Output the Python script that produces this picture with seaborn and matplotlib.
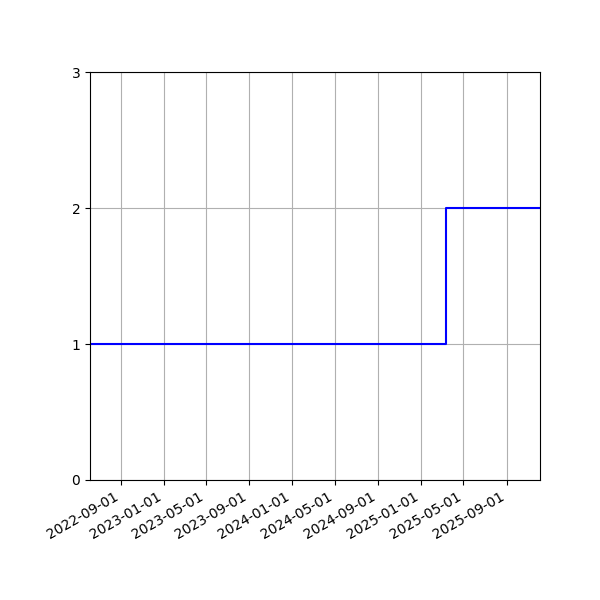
import pandas as pd
import seaborn as sns
import matplotlib.pyplot as plt
import matplotlib.dates as mdates

dates = ["2022-06-06", "2025-03-13", "2025-12-05"]
counts = [1, 2, 2]

df = pd.DataFrame({"date": pd.to_datetime(dates), "count": counts})

fig, ax = plt.subplots(figsize=(6, 6), dpi=100)
sns.lineplot(data=df, x="date", y="count", drawstyle="steps-post",
             color="blue", estimator=None, ax=ax)
ax.set_xlim(df["date"].min(), df["date"].max())
ax.set_ylim(0, 3)
ax.set_yticks([0, 1, 2, 3])
ax.xaxis.set_major_locator(mdates.MonthLocator(bymonth=[1, 5, 9]))
ax.xaxis.set_major_formatter(mdates.DateFormatter("%Y-%m-%d"))
ax.set_xlabel("")
ax.set_ylabel("")
ax.grid(True)
fig.autofmt_xdate()
fig.subplots_adjust(left=0.15)
plt.savefig("out.png")
